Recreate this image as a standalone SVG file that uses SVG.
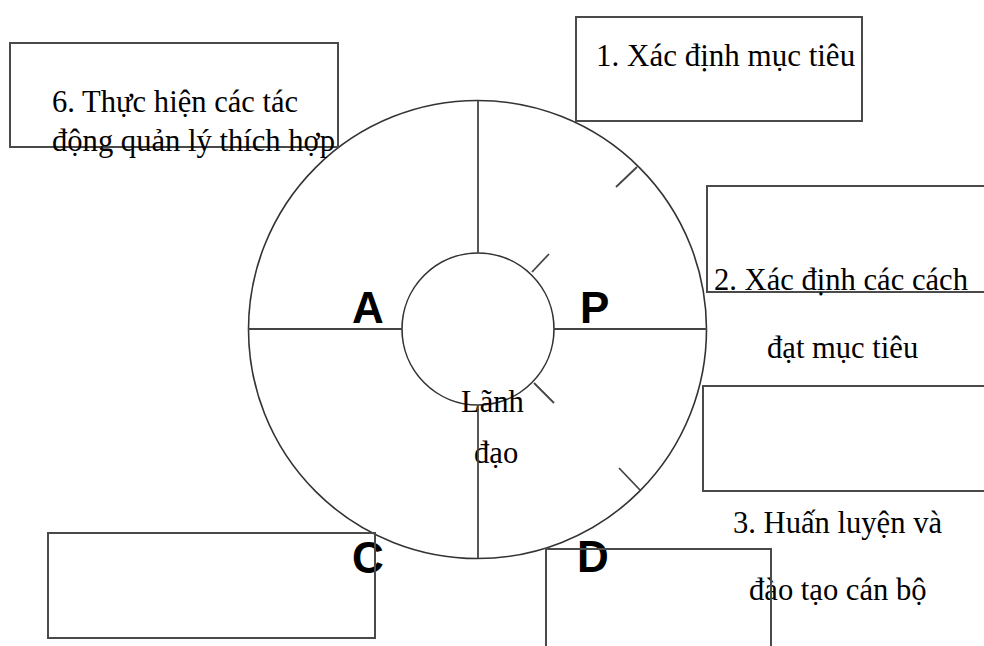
<svg xmlns="http://www.w3.org/2000/svg" width="984" height="646" viewBox="0 0 984 646">
<style>
.bg{fill:#ffffff}
.box{fill:none;stroke:#4a4a4a;stroke-width:2}
.ring{fill:none;stroke:#333333;stroke-width:1.6}
.ln{fill:none;stroke:#444444;stroke-width:1.8}
.t{font-family:"Liberation Serif","Times New Roman",serif;font-size:30.6px;fill:#000000}
.L{font-family:"Liberation Sans",Arial,sans-serif;font-size:44px;font-weight:bold;fill:#000000}
</style>
<rect class="bg" x="0" y="0" width="984" height="646"/>
<g id="outer-circle"><circle class="ring" cx="477.5" cy="329.5" r="229"/></g>
<g id="inner-circle"><circle class="ring" cx="478" cy="329" r="76"/>
<text class="t" x="461" y="412">Lãnh</text>
<text class="t" x="474" y="463">đạo</text></g>
<g id="connectors">
<line class="ln" x1="478" y1="101" x2="478" y2="253"/>
<line class="ln" x1="478" y1="405" x2="478" y2="558"/>
<line class="ln" x1="248" y1="329" x2="402" y2="329"/>
<line class="ln" x1="554" y1="329" x2="707" y2="329"/>
<line class="ln" x1="637" y1="167" x2="616" y2="187"/>
<line class="ln" x1="640" y1="490" x2="619" y2="468"/>
<line class="ln" x1="532" y1="272" x2="549" y2="254"/>
<line class="ln" x1="534" y1="383" x2="554" y2="403"/>
</g>
<g id="label-P"><text class="L" x="580" y="323">P</text></g>
<g id="label-A"><text class="L" x="352" y="323">A</text></g>
<g id="label-C"><text class="L" x="352" y="573">C</text></g>
<g id="label-D"><text class="L" x="577" y="572">D</text></g>
<g id="box6"><rect class="box" x="10" y="43" width="328" height="104"/>
<text class="t" x="52" y="112">6. Thực hiện các tác</text>
<text class="t" x="52" y="151">động quản lý thích hợp</text></g>
<g id="box1"><rect class="box" x="576" y="17" width="286" height="104"/>
<text class="t" x="596" y="66" style="font-size:31px">1. Xác định mục tiêu</text></g>
<g id="box2"><path class="box" d="M986,186 H707 V292 H986"/>
<text class="t" x="714" y="290">2. Xác định các cách</text>
<text class="t" x="767" y="358">đạt mục tiêu</text></g>
<g id="box3"><path class="box" d="M986,386 H703 V491 H986"/>
<text class="t" x="733" y="533">3. Huấn luyện và</text>
<text class="t" x="749" y="600">đào tạo cán bộ</text></g>
<g id="boxC"><rect class="box" x="48" y="533" width="327" height="105"/></g>
<g id="boxD"><path class="box" d="M546,648 V549 H771 V648"/></g>
</svg>
